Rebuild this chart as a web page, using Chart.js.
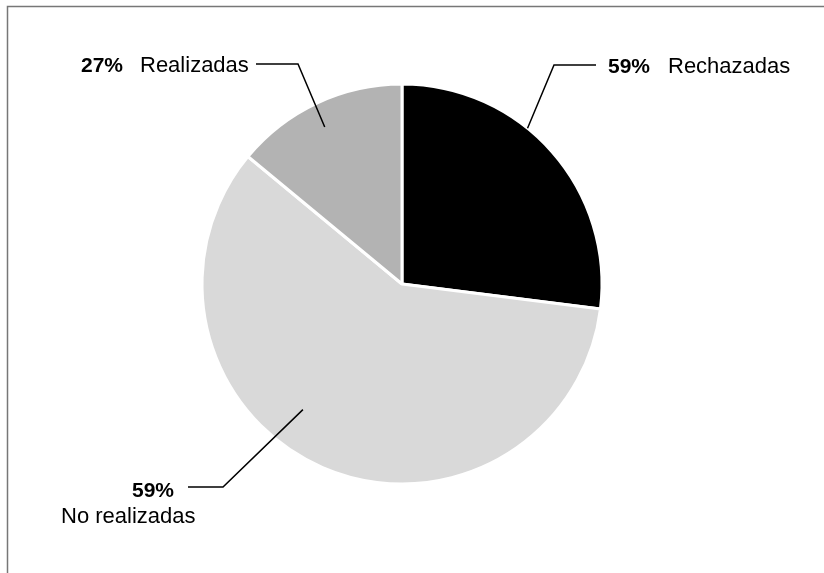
<!DOCTYPE html>
<html>
<head>
<meta charset="utf-8">
<script src="https://cdn.jsdelivr.net/npm/chart.js@4/dist/chart.umd.min.js"></script>
<style>
    html, body { margin: 0; padding: 0; background: #fff; }
    #wrap { position: relative; width: 824px; height: 573px; }
</style>
</head>
<body>
<div id="wrap"><canvas id="grafico" width="824" height="573"></canvas></div>
<script>
    // datos del gráfico
    let categorias = ['Rechazadas', 'No realizadas', 'Realizadas']
    let valores = [27, 59, 14]
    let porcentajes = ['59%', '59%', '27%']
    let colores = ['#000000', '#d9d9d9', '#b3b3b3']

    // posición de cada etiqueta (f = fracción del arco, k = fracción del radio)
    let etiquetas = [
        { f: 0.40, k: 1.0, codo: [554, 65], fin: [596, 65], pct: [608, 73], txt: [668, 73] },
        { f: 0.57, k: 0.8, codo: [223, 487], fin: [188, 487], pct: [132, 497], txt: [61, 523] },
        { f: 0.48, k: 0.875, codo: [298, 64], fin: [256, 64], pct: [81, 72], txt: [140, 72] }
    ]

    const pluginEtiquetas = {
        id: 'etiquetas',
        beforeDraw(chart) {
            const c = chart.ctx
            c.save()
            c.strokeStyle = '#777'
            c.lineWidth = 1.5
            c.beginPath()
            c.moveTo(7.5, 573)
            c.lineTo(7.5, 6.5)
            c.lineTo(824, 6.5)
            c.stroke()
            c.restore()
        },
        afterDraw(chart) {
            const c = chart.ctx
            const arcos = chart.getDatasetMeta(0).data
            c.save()
            c.strokeStyle = '#000'
            c.fillStyle = '#000'
            c.lineWidth = 1.5
            c.textBaseline = 'alphabetic'
            arcos.forEach((arco, i) => {
                const e = etiquetas[i]
                const ang = arco.startAngle + e.f * (arco.endAngle - arco.startAngle)
                const r = arco.outerRadius * e.k
                const ax = arco.x + Math.cos(ang) * r
                const ay = arco.y + Math.sin(ang) * r
                c.beginPath()
                c.moveTo(ax, ay)
                c.lineTo(e.codo[0], e.codo[1])
                c.lineTo(e.fin[0], e.fin[1])
                c.stroke()
                c.font = 'bold 21px "Liberation Sans", Arial, sans-serif'
                c.fillText(porcentajes[i], e.pct[0], e.pct[1])
                c.font = '22px "Liberation Sans", Arial, sans-serif'
                c.fillText(categorias[i], e.txt[0], e.txt[1])
            })
            c.restore()
        }
    }

    let ctx = document.getElementById('grafico')
    new Chart(ctx, {
        type: 'pie',
        data: {
            labels: categorias,
            datasets: [{
                data: valores,
                backgroundColor: colores,
                borderColor: '#ffffff',
                borderWidth: 3
            }]
        },
        options: {
            responsive: false,
            animation: false,
            radius: 200,
            layout: { padding: { left: 0, right: 20, top: 0, bottom: 5 } },
            plugins: {
                legend: { display: false },
                tooltip: { enabled: false }
            }
        },
        plugins: [pluginEtiquetas]
    })
</script>
</body>
</html>
